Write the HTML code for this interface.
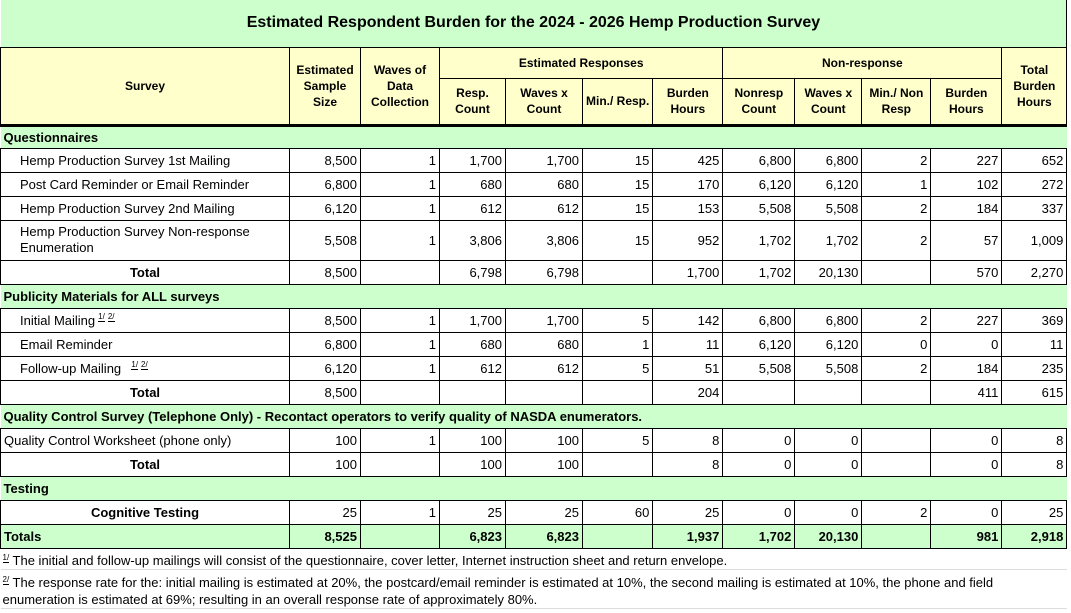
<!DOCTYPE html>
<html><head><meta charset="utf-8"><style>
body{margin:0;background:#fff;width:1071px;height:613px;overflow:hidden;font-family:"Liberation Sans",Arial,sans-serif;font-size:13px;color:#000}
table{border-collapse:collapse;table-layout:fixed;position:absolute;left:0;top:0}
td{border:1px solid #000;padding:0 3px;white-space:nowrap;overflow:hidden;text-align:right;vertical-align:middle}
.g{background:#ccffcc}
.y{background:#ffffcc;font-weight:bold;text-align:center;font-size:12px;line-height:16px}
.sec{background:#ccffcc;font-weight:bold;text-align:left;border-left:none;border-right:none}
.l{text-align:left;padding-left:19px}
.c{text-align:center;font-weight:bold}
.b{font-weight:bold}
.thick td.y{border-bottom:3px solid #000}
.fn{border:none;border-bottom:1px solid #ddd;text-align:left;font-size:13px;white-space:normal;padding:0 2px;line-height:17px;vertical-align:top}
.s{font-size:8px;vertical-align:6px;border-bottom:1px solid #000;margin-left:3px}
</style></head><body>
<table>
<colgroup><col style="width:289px"><col style="width:71px"><col style="width:79px"><col style="width:66px"><col style="width:77px"><col style="width:68px"><col style="width:70px"><col style="width:72px"><col style="width:67px"><col style="width:69px"><col style="width:71px"><col style="width:65px"></colgroup>
<tr style="height:47px"><td colspan="12" class="g" style="text-align:center;font-weight:bold;font-size:16px;border-top:none;border-left:none">Estimated Respondent Burden for the 2024 - 2026 Hemp Production Survey</td></tr>
<tr style="height:31px"><td rowspan="2" class="y" style="border-bottom:3px solid #000">Survey</td><td rowspan="2" class="y" style="border-bottom:3px solid #000">Estimated<br>Sample<br>Size</td><td rowspan="2" class="y" style="border-bottom:3px solid #000">Waves of<br>Data<br>Collection</td><td colspan="4" class="y">Estimated Responses</td><td colspan="4" class="y">Non-response</td><td rowspan="2" class="y" style="border-bottom:3px solid #000">Total<br>Burden<br>Hours</td></tr>
<tr style="height:47px" class="thick"><td class="y">Resp.<br>Count</td><td class="y">Waves x<br>Count</td><td class="y">Min./ Resp.</td><td class="y">Burden<br>Hours</td><td class="y">Nonresp<br>Count</td><td class="y">Waves x<br>Count</td><td class="y">Min./ Non<br>Resp</td><td class="y">Burden<br>Hours</td></tr>
<tr style="height:23px"><td colspan="12" class="sec">Questionnaires</td></tr>
<tr style="height:24px"><td class="l">Hemp Production Survey 1st Mailing</td><td>8,500</td><td>1</td><td>1,700</td><td>1,700</td><td>15</td><td>425</td><td>6,800</td><td>6,800</td><td>2</td><td>227</td><td>652</td></tr>
<tr style="height:24px"><td class="l">Post Card Reminder or Email Reminder</td><td>6,800</td><td>1</td><td>680</td><td>680</td><td>15</td><td>170</td><td>6,120</td><td>6,120</td><td>1</td><td>102</td><td>272</td></tr>
<tr style="height:24px"><td class="l">Hemp Production Survey 2nd Mailing</td><td>6,120</td><td>1</td><td>612</td><td>612</td><td>15</td><td>153</td><td>5,508</td><td>5,508</td><td>2</td><td>184</td><td>337</td></tr>
<tr style="height:40px"><td class="l" style="white-space:normal;line-height:16px">Hemp Production Survey Non-response Enumeration</td><td>5,508</td><td>1</td><td>3,806</td><td>3,806</td><td>15</td><td>952</td><td>1,702</td><td>1,702</td><td>2</td><td>57</td><td>1,009</td></tr>
<tr style="height:24px"><td class="c">Total</td><td>8,500</td><td></td><td>6,798</td><td>6,798</td><td></td><td>1,700</td><td>1,702</td><td>20,130</td><td></td><td>570</td><td>2,270</td></tr>
<tr style="height:24px"><td colspan="12" class="sec">Publicity Materials for ALL surveys</td></tr>
<tr style="height:24px"><td class="l">Initial Mailing<span class="s">1/</span><span class="s">2/</span></td><td>8,500</td><td>1</td><td>1,700</td><td>1,700</td><td>5</td><td>142</td><td>6,800</td><td>6,800</td><td>2</td><td>227</td><td>369</td></tr>
<tr style="height:24px"><td class="l">Email Reminder</td><td>6,800</td><td>1</td><td>680</td><td>680</td><td>1</td><td>11</td><td>6,120</td><td>6,120</td><td>0</td><td>0</td><td>11</td></tr>
<tr style="height:24px"><td class="l">Follow-up Mailing &nbsp;<span class="s">1/</span><span class="s">2/</span></td><td>6,120</td><td>1</td><td>612</td><td>612</td><td>5</td><td>51</td><td>5,508</td><td>5,508</td><td>2</td><td>184</td><td>235</td></tr>
<tr style="height:24px"><td class="c">Total</td><td>8,500</td><td></td><td></td><td></td><td></td><td>204</td><td></td><td></td><td></td><td>411</td><td>615</td></tr>
<tr style="height:24px"><td colspan="12" class="sec">Quality Control Survey (Telephone Only) - Recontact operators to verify quality of NASDA enumerators.</td></tr>
<tr style="height:24px"><td style="text-align:left">Quality Control Worksheet (phone only)</td><td>100</td><td>1</td><td>100</td><td>100</td><td>5</td><td>8</td><td>0</td><td>0</td><td></td><td>0</td><td>8</td></tr>
<tr style="height:24px"><td class="c">Total</td><td>100</td><td></td><td>100</td><td>100</td><td></td><td>8</td><td>0</td><td>0</td><td></td><td>0</td><td>8</td></tr>
<tr style="height:24px"><td colspan="12" class="sec">Testing</td></tr>
<tr style="height:24px"><td class="c">Cognitive Testing</td><td>25</td><td>1</td><td>25</td><td>25</td><td>60</td><td>25</td><td>0</td><td>0</td><td>2</td><td>0</td><td>25</td></tr>
<tr style="height:24px" class="g"><td class="b" style="text-align:left">Totals</td><td class="b">8,525</td><td></td><td class="b">6,823</td><td class="b">6,823</td><td></td><td class="b">1,937</td><td class="b">1,702</td><td class="b">20,130</td><td></td><td class="b">981</td><td class="b">2,918</td></tr>
<tr style="height:21px"><td colspan="12" class="fn"><span style="font-size:8px;vertical-align:5px;border-bottom:1px solid #000">1/</span> The initial and follow-up mailings will consist of the questionnaire, cover letter, Internet instruction sheet and return envelope.</td></tr>
<tr style="height:38px"><td colspan="12" class="fn" style="padding-top:1px;padding-right:60px"><span style="font-size:8px;vertical-align:5px;border-bottom:1px solid #000">2/</span> The response rate for the: initial mailing is estimated at 20%, the postcard/email reminder is estimated at 10%, the second mailing is estimated at 10%, the phone and field enumeration is estimated at 69%; resulting in an overall response rate of approximately 80%.</td></tr>
</table>
</body></html>
